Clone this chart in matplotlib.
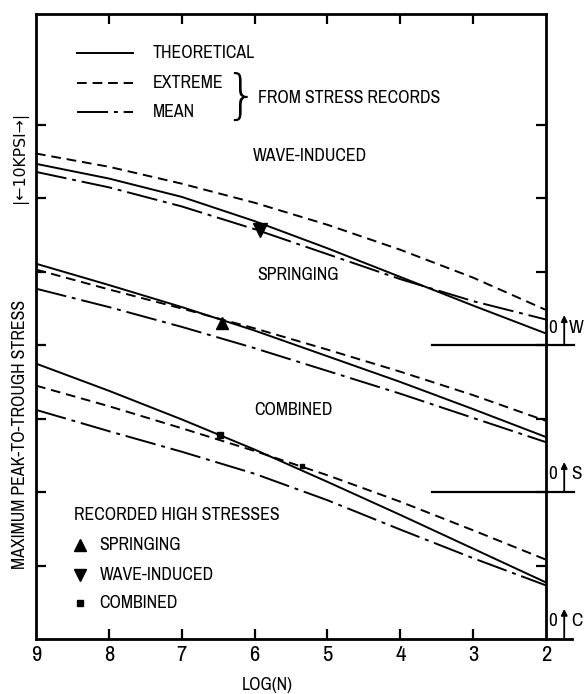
import matplotlib
matplotlib.use('Agg')
import matplotlib.pyplot as plt
from matplotlib import font_manager

# look for a narrow face, the old labels are typed in a condensed letter
narrow = None
for f in font_manager.fontManager.ttflist:
    if 'Narrow' in f.name or 'Condensed' in f.name:
        narrow = (f.name, 'normal')
        break
if narrow is None:
    for f in font_manager.fontManager.ttflist:
        st = f.stretch
        if st in ('condensed', 'semi-condensed', 'extra-condensed') or (isinstance(st, int) and st < 500):
            narrow = (f.name, st)
            break
if narrow is not None:
    plt.rcParams['font.family'] = [narrow[0], 'DejaVu Sans']
    plt.rcParams['font.stretch'] = narrow[1]
    FS = 12.8
else:
    plt.rcParams['font.family'] = ['DejaVu Sans']
    FS = 10.5

# log(N) positions
log_n = [9, 8, 7, 6, 5, 4, 3, 2]

# stresses in KPSI above the bottom of the frame (W zero = 40, S zero = 20, C zero = 0)
wave_theory = [64.7, 62.7, 60.2, 56.9, 53.2, 49.3, 45.4, 41.6]
wave_extreme = [66.1, 64.3, 62.0, 59.4, 56.4, 53.0, 49.2, 44.8]
wave_mean = [63.6, 61.5, 58.9, 55.8, 52.4, 49.0, 46.0, 43.5]

spring_theory = [51.1, 48.2, 45.2, 42.0, 38.5, 35.0, 31.3, 27.5]
spring_extreme = [50.3, 47.6, 45.0, 42.3, 39.4, 36.4, 33.2, 29.7]
spring_mean = [47.7, 45.2, 42.5, 39.6, 36.5, 33.4, 30.1, 26.8]

comb_theory = [37.5, 33.8, 29.9, 25.8, 21.4, 16.9, 12.3, 7.7]
comb_extreme = [34.5, 31.7, 28.7, 25.6, 22.3, 18.7, 14.8, 10.8]
comb_mean = [31.2, 28.3, 25.5, 22.5, 18.9, 14.9, 11.0, 7.3]

# recorded high stresses
rec_spring_x, rec_spring_y = [6.45], [43.0]
rec_wave_x, rec_wave_y = [5.93], [55.7]
rec_comb_x, rec_comb_y = [6.48, 5.35], [27.8, 23.5]

zeros = {'W': 40, 'S': 20, 'C': 0}

x_ticks = [8, 7, 6, 5, 4, 3]
y_ticks = [10, 20, 30, 40, 50, 60, 70]

LW = 1.4
solid = dict(color='black', lw=LW, linestyle='-')
dashed = dict(color='black', lw=LW, linestyle=(0, (5, 3)))
dashdot = dict(color='black', lw=LW, linestyle=(0, (16, 3, 2, 3)))

fig = plt.figure(figsize=(5.85, 6.94), dpi=100)
ax = fig.add_axes([36 / 585, 55 / 694, 510 / 585, 625 / 694])

for th, ex, mn in [(wave_theory, wave_extreme, wave_mean),
                   (spring_theory, spring_extreme, spring_mean),
                   (comb_theory, comb_extreme, comb_mean)]:
    ax.plot(log_n, th, **solid)
    ax.plot(log_n, ex, **dashed)
    ax.plot(log_n, mn, **dashdot)

ax.plot(rec_spring_x, rec_spring_y, marker='^', ms=9, color='black', ls='none')
ax.plot(rec_wave_x, rec_wave_y, marker='v', ms=10, color='black', ls='none')
ax.plot(rec_comb_x[:1], rec_comb_y[:1], marker='s', ms=5, color='black', ls='none')
ax.plot(rec_comb_x[1:], rec_comb_y[1:], marker='s', ms=3, color='black', ls='none')

ax.set_xlim(9, 2)
ax.set_ylim(0, 85.1)
ax.set_xticks([9] + x_ticks + [2])
ax.set_xticklabels([str(v) for v in [9] + x_ticks + [2]], fontsize=FS + 3.5,
                   fontweight='bold')
ax.set_yticks(y_ticks)
ax.set_yticklabels([])
ax.tick_params(direction='in', length=7, width=1.6, top=True, right=True, pad=4)
for spine in ax.spines.values():
    spine.set_linewidth(2)

# hide tick marks at the frame corners
for t in ax.xaxis.get_major_ticks():
    if t.get_loc() in (9, 2):
        t.tick1line.set_visible(False)
        t.tick2line.set_visible(False)

# zero references on the right
for name, z in zeros.items():
    if z > 0:
        ax.plot([3.57, 1.61], [z, z], color='black', lw=1.6, clip_on=False)
    ax.annotate('', xy=(1.75, z + 4.1), xytext=(1.75, z), xycoords='data',
                arrowprops=dict(arrowstyle='-|>', color='black', lw=1.3,
                                mutation_scale=9, shrinkA=0, shrinkB=0),
                annotation_clip=False)
    ax.text(1.91, z + 2.4, '0', fontsize=FS + 1, ha='center', va='center')
    ax.text(1.58, z + 2.4, name, fontsize=FS + 1, ha='center', va='center')
ax.plot([2, 1.65], [0, 0], color='black', lw=2, clip_on=False)

# group labels
ax.text(5.24, 65.8, 'WAVE-INDUCED', fontsize=FS, ha='center', va='center')
ax.text(5.41, 49.5, 'SPRINGING', fontsize=FS, ha='center', va='center')
ax.text(5.46, 31.2, 'COMBINED', fontsize=FS, ha='center', va='center')

# line-style key
tr = ax.transAxes
for fy, style, lab in [(0.9376, solid, 'THEORETICAL'),
                       (0.8896, dashed, 'EXTREME'),
                       (0.8432, dashdot, 'MEAN')]:
    ax.plot([0.080, 0.190], [fy, fy], transform=tr, **style)
    ax.text(0.229, fy, lab, transform=tr, fontsize=FS, va='center')
ax.text(0.402, 0.866, '}', transform=tr, fontsize=38, va='center', ha='center',
        family='DejaVu Sans', fontweight='light', fontstretch='normal')
ax.text(0.435, 0.866, 'FROM STRESS RECORDS', transform=tr, fontsize=FS, va='center')

# marker key
ax.text(0.0745, 0.198, 'RECORDED HIGH STRESSES', transform=tr, fontsize=FS, va='center')
for fy, mk, ms, lab in [(0.150, '^', 8, 'SPRINGING'),
                        (0.102, 'v', 8, 'WAVE-INDUCED'),
                        (0.0576, 's', 4, 'COMBINED')]:
    ax.plot([0.086], [fy], transform=tr, marker=mk, ms=ms, color='black', ls='none',
            clip_on=False)
    ax.text(0.125, fy, lab, transform=tr, fontsize=FS, va='center')

# axis titles
ax.text(-0.031, 0.328, 'MAXIMUM PEAK-TO-TROUGH STRESS', transform=tr, rotation=90,
        fontsize=FS, ha='center', va='center')
ax.text(-0.031, 0.771, '|←10KPSI→|', transform=tr, rotation=90,
        fontsize=FS - 1.5, ha='center', va='center', family=['DejaVu Sans'])
ax.text(0.453, -0.074, 'LOG(N)', transform=tr, fontsize=FS, ha='center', va='center')

fig.savefig('out.png', dpi=100)
